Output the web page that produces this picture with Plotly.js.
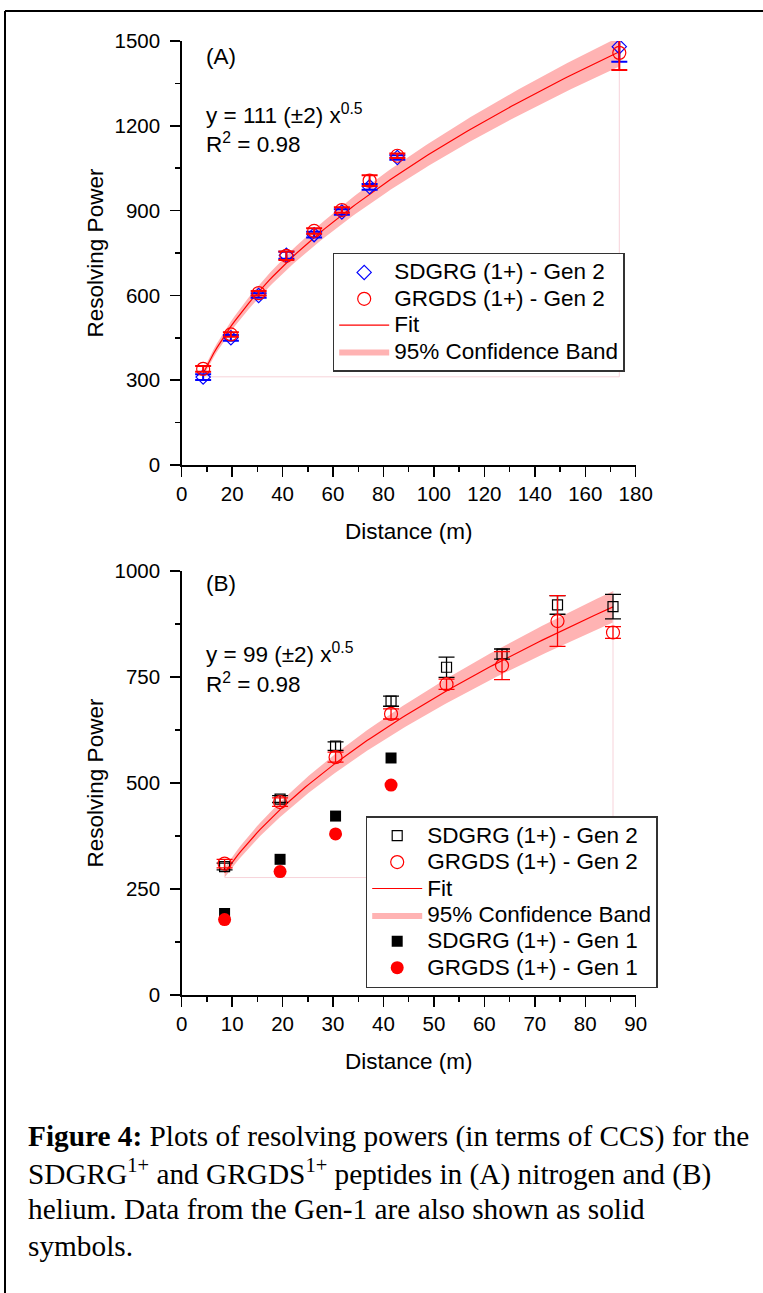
<!DOCTYPE html>
<html><head><meta charset="utf-8">
<script src="https://cdn.plot.ly/plotly-3.0.1.min.js"></script>
<style>html,body{margin:0;padding:0;background:#fff;} #chart{width:763px;height:1293px;}</style>
</head><body><div id="chart"></div>
<script>
// ---------- Panel A (nitrogen) ----------
const distanceA = [8.5, 19.5, 30.5, 41.5, 52.5, 63.5, 74.5, 85.5, 173.5];
const sdgrgGen2A = [311, 450, 600, 742, 815, 895, 984, 1088, 1480];
const sdgrgGen2AErr = [10, 10, 8, 12, 10, 10, 10, 8, 53];
const grgdsGen2A = [340, 462, 608, 740, 828, 902, 1006, 1094, 1458];
const grgdsGen2AErr = [10, 8, 8, 15, 10, 10, 19, 8, 61];
const fitCoefA = 111;
const bandHalfA = 4;

// ---------- Panel B (helium) ----------
const distanceB = [8.5, 19.5, 30.5, 41.5, 52.5, 63.5, 74.5, 85.5];
const sdgrgGen2B = [303, 462, 587, 693, 773, 804, 920, 916];
const sdgrgGen2BErr = [8, 8, 10, 12, 24, 12, 22, 29];
const grgdsGen2B = [310, 455, 561, 663, 733, 777, 882, 855];
const grgdsGen2BErr = [10, 10, 12, 12, 12, 33, 60, 14];
const distanceGen1 = [8.5, 19.5, 30.5, 41.5];
const sdgrgGen1 = [192, 320, 422, 559];
const grgdsGen1 = [178, 291, 380, 495];
const fitCoefB = 99;
const bandHalfB = 4;

const ticksAx = [0, 20, 40, 60, 80, 100, 120, 140, 160, 180];
const ticksAy = [0, 300, 600, 900, 1200, 1500];
const ticksBx = [0, 10, 20, 30, 40, 50, 60, 70, 80, 90];
const ticksBy = [0, 250, 500, 750, 1000];

const seriesNames = {
  sdgrg2: 'SDGRG (1+) - Gen 2', grgds2: 'GRGDS (1+) - Gen 2', fit: 'Fit', band: '95% Confidence Band',
  sdgrg1: 'SDGRG (1+) - Gen 1', grgds1: 'GRGDS (1+) - Gen 1'
};

const captionLines = [
  '<b>Figure 4:</b> Plots of resolving powers (in terms of CCS) for the',
  'SDGRG<sup>1+</sup> and GRGDS<sup>1+</sup> peptides in (A) nitrogen and (B)',
  'helium. Data from the Gen-1 are also shown as solid',
  'symbols.'
];

// fit curve y = c * x^0.5 over the measured distance range
function fitCurve(xs, c) {
  const x0 = Math.min(...xs), x1 = Math.max(...xs);
  const n = 120, X = [], Y = [];
  for (let i = 0; i <= n; i++) { const x = x0 + (x1 - x0) * i / n; X.push(x); Y.push(c * Math.sqrt(x)); }
  return {x: X, y: Y};
}

const W = 763, H = 1293;
const px = v => v / W, py = v => 1 - v / H;

const RED = '#ff0000', BLUE = '#0000ff', BAND = '#ffb3b3', EDGE = '#f7d3da';
const FONT = 'Liberation Sans, Arial, sans-serif';
const LEG = t => '<span style="font-size:22.5px">' + t + '</span>';

function panelTraces(xs, c, half, xa, ya, leg) {
  const lo = fitCurve(xs, c - half), hi = fitCurve(xs, c + half), fit = fitCurve(xs, c);
  const x0 = Math.min(...xs), x1 = Math.max(...xs);
  return [
    {x: lo.x, y: lo.y, xaxis: xa, yaxis: ya, mode: 'lines', line: {width: 0, color: BAND}, showlegend: false, hoverinfo: 'skip'},
    {x: hi.x, y: hi.y, xaxis: xa, yaxis: ya, mode: 'lines', fill: 'tonexty', fillcolor: BAND, line: {width: 0, color: BAND},
     name: LEG(seriesNames.band), legend: leg, legendrank: 4},
    {x: [x0, x1, x1], y: [(c - half) * Math.sqrt(x0), (c - half) * Math.sqrt(x0), (c + half) * Math.sqrt(x1)],
     xaxis: xa, yaxis: ya, mode: 'lines', line: {width: 1, color: EDGE}, showlegend: false, hoverinfo: 'skip'},
    {x: fit.x, y: fit.y, xaxis: xa, yaxis: ya, mode: 'lines', line: {width: 1.2, color: RED}, name: LEG(seriesNames.fit), legend: leg, legendrank: 3}
  ];
}

const traces = [
  ...panelTraces(distanceA, fitCoefA, bandHalfA, 'x', 'y', 'legend'),
  {x: distanceA, y: sdgrgGen2A, xaxis: 'x', yaxis: 'y', mode: 'markers', name: LEG(seriesNames.sdgrg2), legend: 'legend', legendrank: 1,
   marker: {symbol: 'diamond-open', size: 11, color: BLUE, line: {width: 1.2}},
   error_y: {type: 'data', array: sdgrgGen2AErr, color: BLUE, thickness: 2, width: 8}},
  {x: distanceA, y: grgdsGen2A, xaxis: 'x', yaxis: 'y', mode: 'markers', name: LEG(seriesNames.grgds2), legend: 'legend', legendrank: 2,
   marker: {symbol: 'circle-open', size: 13, color: RED, line: {width: 1.2}},
   error_y: {type: 'data', array: grgdsGen2AErr, color: RED, thickness: 2, width: 8}},

  ...panelTraces(distanceB, fitCoefB, bandHalfB, 'x2', 'y2', 'legend2'),
  {x: distanceB, y: sdgrgGen2B, xaxis: 'x2', yaxis: 'y2', mode: 'markers', name: LEG(seriesNames.sdgrg2), legend: 'legend2', legendrank: 1,
   marker: {symbol: 'square-open', size: 10, color: '#000', line: {width: 1.2}},
   error_y: {type: 'data', array: sdgrgGen2BErr, color: '#000', thickness: 1.3, width: 8}},
  {x: distanceB, y: grgdsGen2B, xaxis: 'x2', yaxis: 'y2', mode: 'markers', name: LEG(seriesNames.grgds2), legend: 'legend2', legendrank: 2,
   marker: {symbol: 'circle-open', size: 13, color: RED, line: {width: 1.2}},
   error_y: {type: 'data', array: grgdsGen2BErr, color: RED, thickness: 1.3, width: 8}},
  {x: distanceGen1, y: sdgrgGen1, xaxis: 'x2', yaxis: 'y2', mode: 'markers', name: LEG(seriesNames.sdgrg1), legend: 'legend2', legendrank: 5,
   marker: {symbol: 'square', size: 11, color: '#000'}},
  {x: distanceGen1, y: grgdsGen1, xaxis: 'x2', yaxis: 'y2', mode: 'markers', name: LEG(seriesNames.grgds1), legend: 'legend2', legendrank: 6,
   marker: {symbol: 'circle', size: 13, color: RED}}
];

function xAxis(rangeMax, ticks, minorStep) {
  return {
    domain: [px(181.7), px(635.7)], range: [0, rangeMax], tickvals: ticks, ticktext: ticks.map(String),
    showline: true, linecolor: '#000', linewidth: 1.5, ticks: 'outside', ticklen: 10, tickwidth: 1.5, tickcolor: '#000',
    minor: {dtick: minorStep, tick0: 0, ticks: 'outside', ticklen: 5, tickwidth: 1.5, tickcolor: '#000'},
    showgrid: false, zeroline: false, tickfont: {family: FONT, size: 20.5, color: '#000'},
    title: {text: 'Distance (m)', font: {family: FONT, size: 22.5, color: '#000'}, standoff: 19},
    fixedrange: true
  };
}
function yAxis(rangeMax, ticks, minorStep, top, bottom, anchor) {
  return {
    domain: [py(bottom), py(top)], range: [0, rangeMax], tickvals: ticks, ticktext: ticks.map(String), anchor: anchor,
    showline: true, linecolor: '#000', linewidth: 1.5, ticks: 'outside', ticklen: 10, tickwidth: 1.5, tickcolor: '#000',
    ticklabelstandoff: 6,
    minor: {dtick: minorStep, tick0: 0, ticks: 'outside', ticklen: 5, tickwidth: 1.5, tickcolor: '#000'},
    showgrid: false, zeroline: false, tickfont: {family: FONT, size: 20.5, color: '#000'},
    title: {text: 'Resolving Power', font: {family: FONT, size: 22.5, color: '#000'}, standoff: 4},
    fixedrange: true
  };
}

const ann = (text, x, y, size, extra) => Object.assign({
  xref: 'paper', yref: 'paper', x: px(x), y: py(y), xanchor: 'left', yanchor: 'middle', showarrow: false,
  text: text, font: {family: FONT, size: size, color: '#000'}, align: 'left'
}, extra || {});

const annotations = [
  ann('(A)', 204, 56, 22.5),
  ann('y = 111 (±2) x<sup>0.5</sup>', 204, 114, 22.5),
  ann('R<sup>2</sup> = 0.98', 204, 143, 22.5),
  ann('(B)', 204, 583, 22.5),
  ann('y = 99 (±2) x<sup>0.5</sup>', 204, 653, 22.5),
  ann('R<sup>2</sup> = 0.98', 204, 683, 22.5)
];
const capY = [1136, 1172.7, 1209.3, 1246];
captionLines.forEach((t, i) => annotations.push(ann(t, 26, capY[i], 29.3, {font: {family: 'Liberation Serif, Times New Roman, serif', size: 29.3, color: '#000'}})));

const legendBase = {
  xanchor: 'left', yanchor: 'top', bgcolor: '#fff', bordercolor: '#333', borderwidth: 1.5,
  font: {family: FONT, size: 18, color: '#000'}, itemwidth: 50, tracegroupgap: 0, traceorder: 'normal'
};

const layout = {
  width: W, height: H, margin: {l: 0, r: 0, t: 0, b: 0}, paper_bgcolor: '#fff', plot_bgcolor: 'rgba(0,0,0,0)',
  showlegend: true,
  xaxis: Object.assign(xAxis(180, ticksAx, 10), {anchor: 'y'}), yaxis: yAxis(1500, ticksAy, 150, 41, 465, 'x'),
  xaxis2: Object.assign(xAxis(90, ticksBx, 5), {anchor: 'y2'}), yaxis2: yAxis(1000, ticksBy, 125, 571, 995, 'x2'),
  legend: Object.assign({x: px(332.7), y: py(252.7)}, legendBase),
  legend2: Object.assign({x: px(365.7), y: py(816)}, legendBase),
  annotations: annotations,
  shapes: [
    {type: 'line', xref: 'paper', yref: 'paper', x0: px(5), x1: 1, y0: py(11), y1: py(11), line: {color: '#000', width: 2}},
    {type: 'line', xref: 'paper', yref: 'paper', x0: px(5), x1: px(5), y0: py(11), y1: 0, line: {color: '#000', width: 2}}
  ]
};

Plotly.newPlot('chart', traces, layout, {displayModeBar: false, staticPlot: true});
</script></body></html>
